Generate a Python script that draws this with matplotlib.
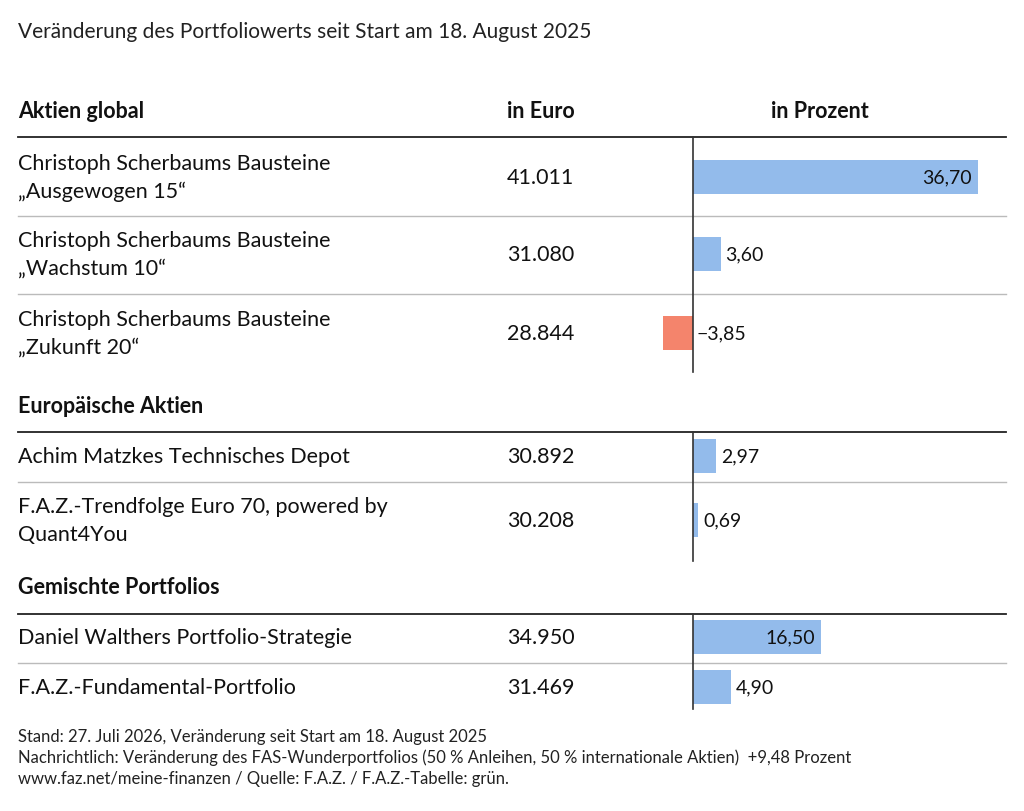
import matplotlib.pyplot as plt

plt.rcParams['font.family'] = ['Lato', 'DejaVu Sans']

namen = ["Christoph Scherbaums Bausteine\n„Ausgewogen 15“",
         "Christoph Scherbaums Bausteine\n„Wachstum 10“",
         "Christoph Scherbaums Bausteine\n„Zukunft 20“",
         "Achim Matzkes Technisches Depot",
         "F.A.Z.-Trendfolge Euro 70, powered by\nQuant4You",
         "Daniel Walthers Portfolio-Strategie",
         "F.A.Z.-Fundamental-Portfolio"]
euro = ["41.011", "31.080", "28.844", "30.892", "30.208", "34.950", "31.469"]
prozent = [36.70, 3.60, -3.85, 2.97, 0.69, 16.50, 4.90]
gruppen = ["Aktien global", "Europäische Aktien", "Gemischte Portfolios"]

# Layout in Pixeln
zeilen_y = [178, 255, 334, 457, 521, 638, 688]
gruppen_y = [111, 407, 588]
schwarz_linien = [138, 433, 615]
grau_linien = [217, 295, 483, 664]
null_linien = [(138, 373), (433, 562), (615, 710)]

fig = plt.figure(figsize=(10.24, 8.12), dpi=100)
ax = fig.add_axes([0, 0, 1, 1])
ax.set_xlim(0, 1024)
ax.set_ylim(812, 0)
ax.axis('off')

ax.text(18, 32, "Veränderung des Portfoliowerts seit Start am 18. August 2025",
        fontsize=15, va='center', color='#222222')
for g, y in zip(gruppen, gruppen_y):
    ax.text(18, y, g, fontsize=15.5, fontweight='bold', va='center', color='#111111')
ax.text(507, 111, "in Euro", fontsize=15.5, fontweight='bold', va='center', color='#111111')
ax.text(820, 111, "in Prozent", fontsize=15.5, fontweight='bold', va='center', ha='center', color='#111111')

for y in schwarz_linien:
    ax.plot([18, 1006], [y, y], color='#222222', lw=1.3)
for y in grau_linien:
    ax.plot([18, 1006], [y, y], color='#bbbbbb', lw=1)

for n, e, y in zip(namen, euro, zeilen_y):
    ax.text(18, y, n, fontsize=15.5, va='center', color='#111111', linespacing=1.45)
    ax.text(507, y, e, fontsize=15.5, va='center', color='#111111')

fn = ("Stand: 27. Juli 2026, Veränderung seit Start am 18. August 2025\n"
      "Nachrichtlich: Veränderung des FAS-Wunderportfolios (50 % Anleihen, 50 % internationale Aktien)  +9,48 Prozent\n"
      "www.faz.net/meine-finanzen / Quelle: F.A.Z. / F.A.Z.-Tabelle: grün.")
ax.text(18, 758, fn, fontsize=12, va='center', color='#222222', linespacing=1.35)

# Balken-Achse: Null bei x=693 px, 36,70 bis 978 px
skala = (978 - 693) / 36.70
links, rechts = 640, 1010
bx = fig.add_axes([links / 1024, 0, (rechts - links) / 1024, 1])
bx.set_xlim((links - 693) / skala, (rechts - 693) / skala)
bx.set_ylim(812, 0)
bx.axis('off')
farben = ['#93bbeb' if p >= 0 else '#f4846c' for p in prozent]
bx.barh(zeilen_y, prozent, height=34, color=farben)
for y0, y1 in null_linien:
    bx.plot([0, 0], [y0, y1], color='#333333', lw=1.2)
for p, y in zip(prozent, zeilen_y):
    s = f"{p:.2f}".replace('.', ',').replace('-', '−')
    if p > 10:
        bx.text(p - 0.8, y, s, fontsize=14, va='center', ha='right', color='#111111')
    elif p >= 0:
        bx.text(p + 0.6, y, s, fontsize=14, va='center', ha='left', color='#111111')
    else:
        bx.text(0.4, y, s, fontsize=14, va='center', ha='left', color='#111111')

fig.savefig('out.png', dpi=100)
